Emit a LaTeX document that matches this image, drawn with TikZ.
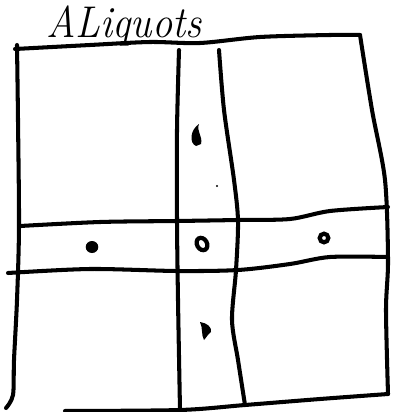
\documentclass[tikz,border=0pt]{standalone}
\usetikzlibrary{calc}

\begin{document}
\begin{tikzpicture}[
    x=0.02cm, y=-0.02cm,
    pen/.style={line width=2.3pt, line cap=round, line join=round},
    blob/.style={fill=black},
    ring/.style={draw=black, line width=2.4pt},
]
\useasboundingbox (0,0) rectangle (393,412);

% Title
\node[font=\fontsize{23}{26}\selectfont\itshape, anchor=base west, inner sep=0pt,
      yscale=1.1, transform shape] (title) at (46,38) {ALiquots};

% Outer frame
\draw[pen] plot[smooth] coordinates {(15,49) (90,45) (150,42) (200,43) (260,37) (330,35) (360,35)};
\draw[pen] plot[smooth] coordinates {(17,45) (18,120) (19,226) (17,300) (14,360) (13,395) (6,408)};
\draw[pen] plot[smooth] coordinates {(360,35) (372,110) (385,180) (388,260) (386,310) (388,394)};
\draw[pen] plot[smooth] coordinates {(65,411) (180,410) (245,405) (320,399) (388,394)};

% Vertical band
\draw[pen] plot[smooth] coordinates {(179,50) (177,130) (177,221) (178,300) (180,410)};
\draw[pen] plot[smooth] coordinates {(219,50) (224,110) (234,180) (238,221) (236,270) (232,320) (238,360) (245,405)};

% Horizontal band
\draw[pen] plot[smooth] coordinates {(20,226) (100,222) (177,221) (238,220) (290,219) (330,211) (388,207)};
\draw[pen] plot[smooth] coordinates {(8,273) (90,269) (177,271) (238,270) (290,264) (330,257) (388,257)};

% Marks in the bands
\fill[blob] (92,247) ellipse [x radius=6.3, y radius=6];
\draw[ring] (202,244) ellipse [x radius=5, y radius=6.5, rotate=30];
\draw[ring] (324,238) circle [radius=4.3];
\fill[blob] (196,146) .. controls (189,143) and (190,130) .. (199,124)
    .. controls (196,131) and (203,136) .. (201,144) -- cycle;
\fill[blob] (200,322) .. controls (207,323) and (212,327) .. (211,332)
    .. controls (208,334) and (206,338) .. (204,340)
    .. controls (201,335) and (203,328) .. cycle;
\fill[blob] (217,186) circle [radius=1.1];

\end{tikzpicture}
\end{document}
